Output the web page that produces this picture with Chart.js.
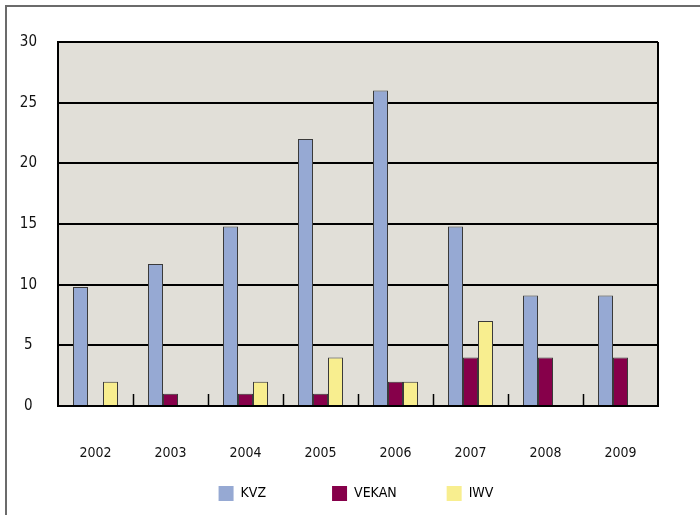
<!DOCTYPE html>
<html>
<head>
<meta charset="utf-8">
<script src="https://cdn.jsdelivr.net/npm/chart.js@4/dist/chart.umd.min.js"></script>
<style>
  html, body { margin: 0; padding: 0; background: #fff; }
  #wrap { position: relative; width: 700px; height: 515px; }
  #frame { position: absolute; left: 5px; top: 5px; width: 700px; height: 520px;
           border-top: 2px solid #6b6b6b; border-left: 2px solid #6b6b6b; }
  canvas { position: absolute; left: 0; top: 0; }
</style>
</head>
<body>
<div id="wrap">
  <div id="frame"></div>
  <canvas id="metricsChart" width="700" height="515"></canvas>
</div>
<script>
const years = ['2002', '2003', '2004', '2005', '2006', '2007', '2008', '2009'];
const kvz = [9.8, 11.7, 14.8, 22, 26, 14.8, 9.1, 9.1];
const vekan = [0, 1, 1, 1, 2, 4, 4, 4];
const iwv = [2, 0, 2, 4, 2, 7, 0, 0];
const yTicks = [0, 5, 10, 15, 20, 25, 30];

const fontFamily = "'Liberation Sans Narrow', 'DejaVu Sans Condensed', sans-serif";
// trailing spaces so the legend entries sit at even spacing
const legendGap = ['              ', '          ', ''];

// plot background, right frame and the small category ticks at the bottom
const plotDecor = {
    id: 'plotDecor',
    afterLayout(chart) {
        // legend is centred under the whole page, not under the plot
        const lg = chart.legend;
        if (lg) { lg.left += 27; lg.right += 27; }
    },
    beforeDraw(chart) {
        const a = chart.chartArea, c = chart.ctx;
        c.save();
        c.fillStyle = '#e1dfd8';
        c.fillRect(a.left, a.top, a.right - a.left, a.bottom - a.top);
        c.restore();
    },
    afterDraw(chart) {
        const a = chart.chartArea, c = chart.ctx, x = chart.scales.x;
        c.save();
        c.strokeStyle = '#000';
        c.lineWidth = 2;
        c.beginPath();
        c.moveTo(a.right, a.top);
        c.lineTo(a.right, a.bottom);
        c.stroke();
        c.lineWidth = 1.5;
        for (let i = 1; i < years.length; i++) {
            const px = Math.round((x.getPixelForTick(i - 1) + x.getPixelForTick(i)) / 2) + 0.5;
            c.beginPath();
            c.moveTo(px, a.bottom);
            c.lineTo(px, a.bottom - 12);
            c.stroke();
        }
        c.restore();
    }
};

const ctx = document.getElementById('metricsChart').getContext('2d');
new Chart(ctx, {
    type: 'bar',
    data: {
        labels: years,
        datasets: [
            { label: 'KVZ', data: kvz, backgroundColor: '#96a9d3', borderColor: '#3a3a3a', borderWidth: 1 },
            { label: 'VEKAN', data: vekan, backgroundColor: '#86004a', borderColor: '#3a3a3a', borderWidth: 1 },
            { label: 'IWV', data: iwv, backgroundColor: '#f8ee8f', borderColor: '#3a3a3a', borderWidth: 1 }
        ]
    },
    options: {
        responsive: false,
        animation: false,
        events: [],
        layout: { padding: { top: 42, right: 42, left: 0, bottom: 4 } },
        datasets: { bar: { categoryPercentage: 0.6, barPercentage: 1.0 } },
        scales: {
            x: {
                grid: { display: false },
                border: { color: '#000', width: 2 },
                ticks: { color: '#111', padding: 31, font: { family: fontFamily, size: 14 } },
                afterFit(s) { s.height = 70; }
            },
            y: {
                min: 0,
                max: 30,
                afterBuildTicks(s) { s.ticks = yTicks.map(v => ({ value: v })); },
                grid: { color: '#000', lineWidth: 2, drawTicks: false },
                border: { color: '#000', width: 2 },
                ticks: { color: '#111', padding: 21, crossAlign: 'center', font: { family: fontFamily, size: 15 } },
                afterFit(s) { s.width = 58; }
            }
        },
        plugins: {
            legend: {
                position: 'bottom',
                labels: {
                    boxWidth: 15,
                    boxHeight: 15,
                    padding: 10,
                    color: '#111',
                    font: { family: fontFamily, size: 14 },
                    generateLabels(chart) {
                        return chart.data.datasets.map((d, i) => ({
                            text: d.label + legendGap[i],
                            fillStyle: d.backgroundColor,
                            strokeStyle: d.backgroundColor,
                            lineWidth: 0,
                            datasetIndex: i
                        }));
                    }
                }
            },
            tooltip: { enabled: false }
        }
    },
    plugins: [plotDecor]
});
</script>
</body>
</html>
